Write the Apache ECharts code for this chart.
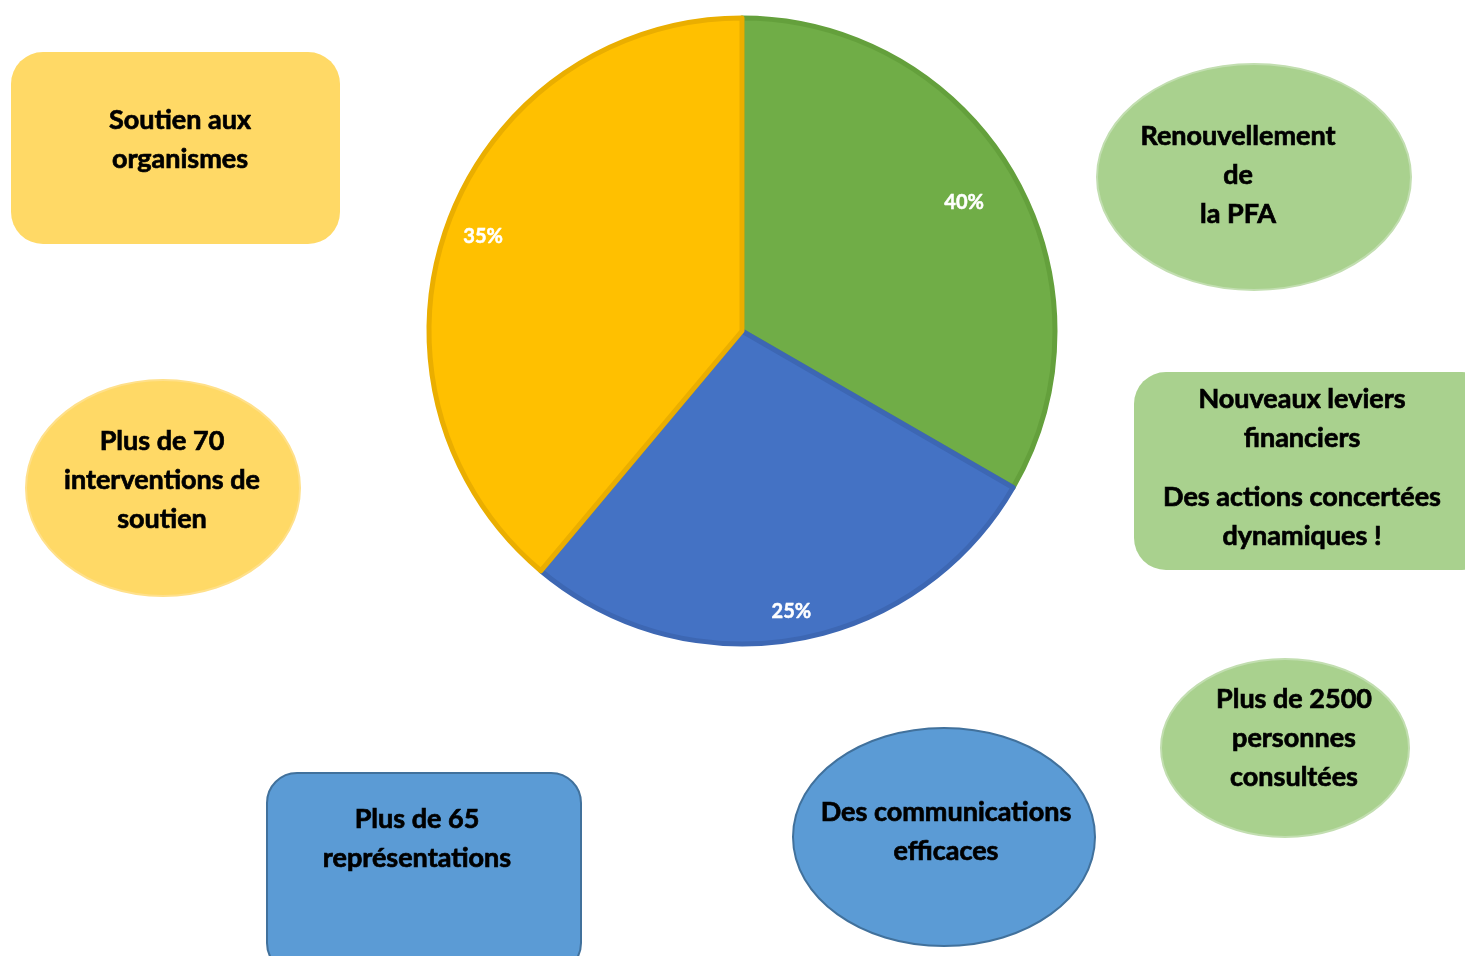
<!DOCTYPE html>
<html>
<head>
<meta charset="utf-8">
<script src="https://cdn.jsdelivr.net/npm/echarts@6/dist/echarts.min.js"></script>
<style>
html,body{margin:0;padding:0;background:#fff;}
#chart{width:1465px;height:956px;}
</style>
</head>
<body>
<div id="chart"></div>
<script>
// ---- Data ----
const categories = ['Concertation', 'Communication', 'Soutien'];
const sliceValues = [3, 2.5, 3.5];
const sliceLabels = ['40%', '25%', '35%'];

const boxSoutien = 'Soutien aux\norganismes';
const boxPFA = 'Renouvellement\nde\nla PFA';
const boxLeviers = 'Nouveaux leviers\nfinanciers';
const boxActions = 'Des actions concertées\ndynamiques !';
const boxInterventions = 'Plus de 70\ninterventions de\nsoutien';
const boxPersonnes = 'Plus de 2500\npersonnes\nconsultées';
const boxCommunications = 'Des communications\nefficaces';
const boxRepresentations = 'Plus de 65\nreprésentations';

// ---- Styles ----
const FONT = 'Lato, "Open Sans", sans-serif';
const sliceFill = ['#70AD47', '#4472C4', '#FFC000'];
const sliceBorder = ['#64A03C', '#3D67B3', '#EAAE00'];
const labelRadiusFrac = [0.81, 0.90, 0.87]; // label placement (fraction of radius)
const YEL = '#FFD966', GRN = '#A9D18E', BLU = '#5B9BD5', BLU_EDGE = '#41719C';
const CENTER = [742, 331], R = 313;

const chart = echarts.init(document.getElementById('chart'), null, {renderer: 'canvas'});

function txt(x, y, text) {
  return {
    type: 'text', x: x, y: y, z: 10,
    style: {
      text: text, fill: '#000', font: 'bold 27px ' + FONT,
      align: 'center', verticalAlign: 'middle', lineHeight: 39,
      stroke: '#000', lineWidth: 0.7
    }
  };
}

const pieData = categories.map((c, i) => ({
  name: c, value: sliceValues[i],
  itemStyle: {color: sliceFill[i], borderColor: sliceBorder[i], borderWidth: 5}
}));

const labelSeries = categories.map((_, k) => ({
  type: 'pie', center: CENTER,
  radius: [Math.round((2 * labelRadiusFrac[k] - 1) * R), R],
  startAngle: 90, clockwise: true, silent: true,
  itemStyle: {color: 'rgba(0,0,0,0)', borderWidth: 0},
  labelLine: {show: false},
  data: categories.map((c, i) => ({
    name: c, value: sliceValues[i],
    label: {
      show: i === k, position: 'inside', formatter: sliceLabels[i],
      color: '#fff', fontFamily: FONT, fontWeight: 'bold', fontSize: 20,
      textBorderColor: '#fff', textBorderWidth: 0.5
    }
  }))
}));

chart.setOption({
  animation: false,
  series: [
    {
      type: 'pie', center: CENTER, radius: R,
      startAngle: 90, clockwise: true, silent: true,
      label: {show: false}, labelLine: {show: false},
      data: pieData
    }
  ].concat(labelSeries),
  graphic: [
    {type: 'rect', shape: {x: 11, y: 52, width: 329, height: 192, r: 32}, style: {fill: YEL}},
    txt(180, 140, boxSoutien),

    {type: 'ellipse', shape: {cx: 1254, cy: 177, rx: 157, ry: 113}, style: {fill: GRN, stroke: '#C2DEB0', lineWidth: 2}},
    txt(1238, 175, boxPFA),

    {type: 'rect', shape: {x: 1134, y: 372, width: 360, height: 198, r: 32}, style: {fill: GRN}},
    txt(1302, 419, boxLeviers),
    txt(1302, 517, boxActions),

    {type: 'ellipse', shape: {cx: 163, cy: 488, rx: 137, ry: 108}, style: {fill: YEL, stroke: '#FFE08A', lineWidth: 2}},
    txt(162, 480, boxInterventions),

    {type: 'ellipse', shape: {cx: 1285, cy: 748, rx: 124, ry: 89}, style: {fill: GRN, stroke: '#C2DEB0', lineWidth: 2}},
    txt(1294, 738, boxPersonnes),

    {type: 'ellipse', shape: {cx: 944, cy: 837, rx: 151, ry: 109}, style: {fill: BLU, stroke: BLU_EDGE, lineWidth: 2}},
    txt(946, 832, boxCommunications),

    {type: 'rect', shape: {x: 267, y: 773, width: 314, height: 200, r: 30}, style: {fill: BLU, stroke: BLU_EDGE, lineWidth: 2}},
    txt(417, 839, boxRepresentations)
  ]
});
</script>
</body>
</html>
